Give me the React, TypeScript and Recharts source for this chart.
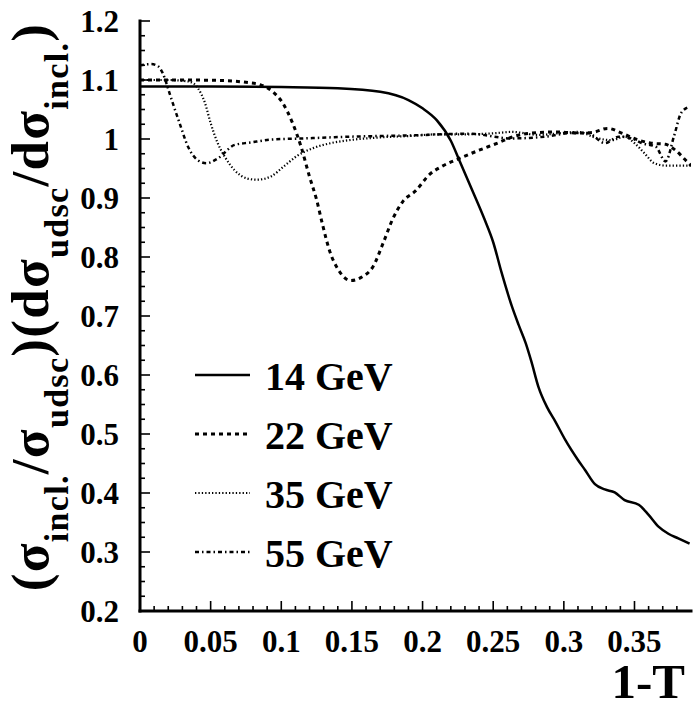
import { LineChart, Line, XAxis, YAxis, Legend } from "recharts";

const FONT = '"Liberation Serif", "Times New Roman", serif';

// axis ticks
const X_MAJOR = [0, 0.05, 0.1, 0.15, 0.2, 0.25, 0.3, 0.35];
const Y_MAJOR = [0.2, 0.3, 0.4, 0.5, 0.6, 0.7, 0.8, 0.9, 1, 1.1, 1.2];
const X_DOMAIN: [number, number] = [0, 0.39];
const Y_DOMAIN: [number, number] = [0.2, 1.2];

// 14 GeV
const x14 = [0, 0.05, 0.1, 0.14, 0.17, 0.19, 0.2, 0.21, 0.22, 0.226, 0.235, 0.244, 0.25, 0.256, 0.263, 0.268, 0.273, 0.277, 0.282, 0.288, 0.294, 0.301, 0.31, 0.315, 0.322, 0.329, 0.336, 0.343, 0.353, 0.36, 0.367, 0.374, 0.381, 0.389];
const y14 = [1.089, 1.089, 1.088, 1.086, 1.08, 1.066, 1.052, 1.032, 0.997, 0.964, 0.914, 0.863, 0.825, 0.773, 0.718, 0.685, 0.654, 0.623, 0.58, 0.546, 0.521, 0.49, 0.456, 0.439, 0.415, 0.406, 0.401, 0.388, 0.38, 0.363, 0.343, 0.331, 0.323, 0.314];

// 22 GeV
const x22 = [0, 0.03, 0.06, 0.075, 0.085, 0.094, 0.101, 0.108, 0.114, 0.12, 0.125, 0.129, 0.134, 0.141, 0.149, 0.157, 0.165, 0.172, 0.179, 0.186, 0.195, 0.205, 0.214, 0.226, 0.24, 0.254, 0.263, 0.277, 0.296, 0.31, 0.32, 0.331, 0.341, 0.353, 0.362, 0.372, 0.379, 0.387, 0.39];
const y22 = [1.1, 1.1, 1.099, 1.096, 1.092, 1.08, 1.061, 1.027, 0.987, 0.936, 0.897, 0.857, 0.812, 0.776, 0.76, 0.766, 0.784, 0.823, 0.865, 0.894, 0.912, 0.94, 0.954, 0.967, 0.981, 0.994, 1.003, 1.01, 1.012, 1.01, 1.011, 1.018, 1.01, 0.998, 0.993, 0.991, 0.981, 0.962, 0.955];

// 35 GeV
const x35 = [0, 0.02, 0.033, 0.038, 0.041, 0.046, 0.05, 0.055, 0.06, 0.067, 0.076, 0.083, 0.093, 0.102, 0.111, 0.123, 0.135, 0.148, 0.172, 0.19, 0.212, 0.233, 0.252, 0.263, 0.282, 0.298, 0.31, 0.324, 0.334, 0.343, 0.35, 0.357, 0.364, 0.372, 0.39];
const y35 = [1.1, 1.1, 1.098, 1.094, 1.086, 1.061, 1.027, 0.993, 0.97, 0.947, 0.933, 0.931, 0.937, 0.954, 0.971, 0.985, 0.993, 0.998, 1.003, 1.005, 1.008, 1.008, 1.01, 1.012, 1.007, 1.01, 1.012, 1.001, 0.998, 1.004, 0.993, 0.976, 0.959, 0.955, 0.955];

// 55 GeV
const x55 = [0, 0.008, 0.013, 0.016, 0.021, 0.024, 0.028, 0.034, 0.041, 0.047, 0.055, 0.067, 0.078, 0.093, 0.116, 0.15, 0.19, 0.233, 0.263, 0.287, 0.305, 0.317, 0.329, 0.339, 0.348, 0.355, 0.365, 0.372, 0.378, 0.383, 0.389];
const y55 = [1.125, 1.127, 1.123, 1.112, 1.077, 1.055, 1.027, 0.987, 0.964, 0.959, 0.967, 0.99, 0.994, 0.999, 1.001, 1.004, 1.006, 1.009, 1.001, 1.004, 1.01, 1.01, 0.993, 1.004, 1.001, 0.993, 0.987, 0.962, 1.005, 1.044, 1.055];

const pts = (xs: number[], ys: number[]) => xs.map((x, i) => ({ x, y: ys[i] }));

const series = [
  { name: "14 GeV", data: pts(x14, y14), dash: undefined, width: 2.5 },
  { name: "22 GeV", data: pts(x22, y22), dash: "4 4", width: 3 },
  { name: "35 GeV", data: pts(x35, y35), dash: "1.3 2.1", width: 2.2 },
  { name: "55 GeV", data: pts(x55, y55), dash: "4 3 1.5 3", width: 2.5 },
];

const steps = (from: number, to: number, step: number) => {
  const out: number[] = [];
  for (let v = from; v <= to + 1e-9; v += step) out.push(Math.round(v * 1000) / 1000);
  return out;
};
const xTicks = steps(0, 0.38, 0.01);
const yTicks = steps(0.2, 1.2, 0.025);
const isMajor = (v: number, majors: number[]) => majors.some((m) => Math.abs(m - v) < 1e-6);
const fmt = (v: number) => String(Math.round(v * 1000) / 1000);

const XTick = (props: any) => {
  const { x, y, payload, side } = props;
  const major = isMajor(payload.value, X_MAJOR);
  const len = major ? 10 : 5;
  const dir = side === "top" ? 1 : -1;
  return (
    <g>
      <line x1={x} y1={y} x2={x} y2={y + dir * len} stroke="#000" strokeWidth={1.6} />
      {major && side === "bottom" && (
        <text x={x} y={y + 41} textAnchor="middle" fontFamily={FONT} fontWeight="bold" fontSize={31} fill="#000">
          {fmt(payload.value)}
        </text>
      )}
    </g>
  );
};

const YTick = (props: any) => {
  const { x, y, payload, side } = props;
  const major = isMajor(payload.value, Y_MAJOR);
  const len = major ? 10 : 5;
  const dir = side === "left" ? 1 : -1;
  return (
    <g>
      <line x1={x} y1={y} x2={x + dir * len} y2={y} stroke="#000" strokeWidth={1.6} />
      {major && side === "left" && (
        <text x={x - 21} y={y} dy="0.35em" textAnchor="end" fontFamily={FONT} fontWeight="bold" fontSize={31} fill="#000">
          {fmt(payload.value)}
        </text>
      )}
    </g>
  );
};

const SUB = 34;
const SHIFT = 20;

const YTitle = () => (
  <text
    transform="translate(48,307) rotate(-90)"
    textAnchor="middle"
    fontFamily={FONT}
    fontWeight="bold"
    fontSize={53}
    letterSpacing={1.3}
    fill="#000"
  >
    <tspan>(σ</tspan>
    <tspan fontSize={SUB} dy={SHIFT}>incl.</tspan>
    <tspan dy={-SHIFT}>/σ</tspan>
    <tspan fontSize={SUB} dy={SHIFT}>udsc</tspan>
    <tspan dy={-SHIFT}>)(dσ</tspan>
    <tspan fontSize={SUB} dy={SHIFT}>udsc</tspan>
    <tspan dy={-SHIFT}>/dσ</tspan>
    <tspan fontSize={SUB} dy={SHIFT}>incl.</tspan>
    <tspan dy={-SHIFT}>)</tspan>
  </text>
);

const XTitle = () => (
  <text x={685} y={698} textAnchor="end" fontFamily={FONT} fontWeight="bold" fontSize={49} fill="#000">
    1-T
  </text>
);

const LegendBox = () => (
  <svg width={260} height={240} style={{ display: "block", overflow: "visible" }}>
    {series.map((s, i) => (
      <g key={s.name}>
        <line x1={0} x2={55} y1={15 + i * 59} y2={15 + i * 59} stroke="#000" strokeWidth={s.width} strokeDasharray={s.dash} />
        <text x={70} y={30 + i * 59} fontFamily={FONT} fontWeight="bold" fontSize={40} fill="#000">
          {s.name}
        </text>
      </g>
    ))}
  </svg>
);

const axisLine = { stroke: "#000", strokeWidth: 3, strokeLinecap: "square" as const };

export default function App() {
  return (
    <div style={{ position: "absolute", left: 0, top: 0 }}>
      <LineChart width={693} height={707} margin={{ top: 21, right: 2, bottom: 0, left: 0 }}>
        <XAxis
          xAxisId="b"
          type="number"
          dataKey="x"
          domain={X_DOMAIN}
          allowDataOverflow
          ticks={xTicks}
          interval={0}
          height={96}
          tickSize={0}
          tickMargin={0}
          tickLine={false}
          axisLine={axisLine}
          tick={(p: any) => <XTick {...p} side="bottom" />}
          label={<XTitle />}
        />
        <XAxis
          xAxisId="t"
          orientation="top"
          type="number"
          dataKey="x"
          domain={X_DOMAIN}
          allowDataOverflow
          ticks={xTicks}
          interval={0}
          height={0}
          tickSize={0}
          tickMargin={0}
          tickLine={false}
          axisLine={axisLine}
          tick={(p: any) => <XTick {...p} side="top" />}
        />
        <YAxis
          yAxisId="l"
          type="number"
          domain={Y_DOMAIN}
          allowDataOverflow
          ticks={yTicks}
          interval={0}
          width={140}
          tickSize={0}
          tickMargin={0}
          tickLine={false}
          axisLine={axisLine}
          tick={(p: any) => <YTick {...p} side="left" />}
          label={<YTitle />}
        />
        <YAxis
          yAxisId="r"
          orientation="right"
          type="number"
          domain={Y_DOMAIN}
          allowDataOverflow
          ticks={yTicks}
          interval={0}
          width={0}
          tickSize={0}
          tickMargin={0}
          tickLine={false}
          axisLine={axisLine}
          tick={(p: any) => <YTick {...p} side="right" />}
        />
        <Legend
          layout="horizontal"
          verticalAlign="middle"
          align="center"
          width={260}
          height={240}
          wrapperStyle={{ left: 195, top: 360, width: 260, height: 240 }}
          content={() => <LegendBox />}
        />
        {series.map((s) => (
          <Line
            key={s.name}
            xAxisId="b"
            yAxisId="l"
            data={s.data}
            dataKey="y"
            name={s.name}
            type="monotone"
            stroke="#000"
            strokeWidth={s.width}
            strokeDasharray={s.dash}
            dot={false}
            activeDot={false}
            isAnimationActive={false}
          />
        ))}
      </LineChart>
    </div>
  );
}
